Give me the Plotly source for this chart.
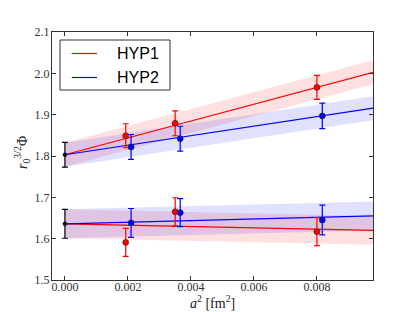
import plotly.graph_objects as go

# ---- data ----
hyp1_x = [0.00193, 0.00350, 0.00800]
hyp1_upper = [1.849, 1.879, 1.966]
hyp1_upper_err = [0.029, 0.030, 0.029]
hyp1_lower = [1.591, 1.665, 1.617]
hyp1_lower_err = [0.034, 0.034, 0.034]

hyp2_x = [0.00210, 0.00366, 0.00817]
hyp2_upper = [1.822, 1.842, 1.897]
hyp2_upper_err = [0.030, 0.030, 0.031]
hyp2_lower = [1.638, 1.663, 1.645]
hyp2_lower_err = [0.035, 0.034, 0.036]

extrap_x = [0.0, 0.0]
extrap_y = [1.803, 1.636]
extrap_err = [0.030, 0.035]

fit_x = [0.0, 0.0098]
fit_hyp1_upper = [1.803, 2.003]
fit_hyp2_upper = [1.803, 1.916]
fit_hyp1_lower = [1.636, 1.620]
fit_hyp2_lower = [1.636, 1.655]
band_upper = 0.029
band_lower = 0.035

legend_names = ["HYP1", "HYP2"]
x_title = "<i>a</i><sup>2</sup> [fm<sup>2</sup>]"
y_title = "<i>r</i><sub>0</sub><sup>3/2</sup>Φ"

RED = "#ff0000"
BLUE = "#0000ff"
RED_FILL = "rgba(255,0,0,0.12)"
BLUE_FILL = "rgba(0,0,255,0.12)"

fig = go.Figure()


def add_band(xs, ys, half, fill):
    up = [v + half for v in ys]
    lo = [v - half for v in ys]
    fig.add_trace(go.Scatter(x=xs + xs[::-1], y=up + lo[::-1], fill="toself",
                             fillcolor=fill, line=dict(width=0), mode="lines",
                             hoverinfo="skip", showlegend=False))


add_band(fit_x, fit_hyp1_upper, band_upper, RED_FILL)
add_band(fit_x, fit_hyp1_lower, band_lower, RED_FILL)
add_band(fit_x, fit_hyp2_upper, band_upper, BLUE_FILL)
add_band(fit_x, fit_hyp2_lower, band_lower, BLUE_FILL)

for ys, c in [(fit_hyp1_upper, RED), (fit_hyp1_lower, RED),
              (fit_hyp2_upper, BLUE), (fit_hyp2_lower, BLUE)]:
    fig.add_trace(go.Scatter(x=fit_x, y=ys, mode="lines",
                             line=dict(color=c, width=1.2), showlegend=False))


def add_points(xs, ys, errs, c, size=6):
    fig.add_trace(go.Scatter(
        x=xs, y=ys, mode="markers",
        marker=dict(color=c, size=size, line=dict(color="#222222", width=0.6)),
        error_y=dict(type="data", array=errs, color=c, thickness=1.2, width=3),
        showlegend=False))


add_points(hyp1_x, hyp1_upper, hyp1_upper_err, RED)
add_points(hyp1_x, hyp1_lower, hyp1_lower_err, RED)
add_points(hyp2_x, hyp2_upper, hyp2_upper_err, BLUE)
add_points(hyp2_x, hyp2_lower, hyp2_lower_err, BLUE)
add_points(extrap_x, extrap_y, extrap_err, "black", size=4)

# ---- page body adds an 8px offset; plot area on screen: 52..373 x 32..280 px ----
OFF = 8
L, T, W, H = 52, 32, 321, 248


def px(x):
    return (x - L) / W


def py(y):
    return (T + H - y) / H


fig.add_shape(type="rect", xref="paper", yref="paper",
              x0=px(60), x1=px(170), y0=py(90), y1=py(40),
              line=dict(color="#333333", width=1), fillcolor="white", layer="above")
for name, c, yy in zip(legend_names, [RED, BLUE], [53.5, 77.5]):
    fig.add_shape(type="line", xref="paper", yref="paper",
                  x0=px(72), x1=px(97), y0=py(yy), y1=py(yy),
                  line=dict(color=c, width=1.2), layer="above")
    fig.add_annotation(text=name, xref="paper", yref="paper", x=px(115), y=py(yy),
                       xanchor="left", yanchor="middle", showarrow=False,
                       font=dict(family="Liberation Sans, Arial, sans-serif", size=16,
                                 color="black"))

title_font = dict(family="Liberation Serif, serif", size=14, color="#222")
fig.add_annotation(text=x_title, xref="paper", yref="paper", x=px(212), y=py(302),
                   xanchor="center", yanchor="middle", showarrow=False, font=title_font)
fig.add_annotation(text=y_title, xref="paper", yref="paper", x=px(22), y=py(153),
                   xanchor="center", yanchor="middle", showarrow=False, textangle=-90,
                   font=title_font)

tickfont = dict(family="Liberation Serif, serif", size=12, color="#333333")
axis_common = dict(showgrid=False, zeroline=False, showline=True, linecolor="#333333",
                   linewidth=1, mirror="ticks", ticks="inside", ticklen=4,
                   tickcolor="#333333", tickfont=tickfont, automargin=False)

fig.update_layout(
    width=415 - OFF, height=312 - OFF,
    margin=dict(l=L - OFF, r=415 - (L + W), t=T - OFF, b=312 - (T + H)),
    paper_bgcolor="white", plot_bgcolor="white",
    showlegend=False,
    xaxis=dict(range=[-0.00041, 0.00978], tickvals=[0, 0.002, 0.004, 0.006, 0.008],
               ticktext=["0.000", "0.002", "0.004", "0.006", "0.008"],
               ticklabelstandoff=-4, **axis_common),
    yaxis=dict(range=[1.5, 2.1], tickvals=[1.5, 1.6, 1.7, 1.8, 1.9, 2.0, 2.1],
               ticktext=["1.5", "1.6", "1.7", "1.8", "1.9", "2.0", "2.1"],
               ticklabelstandoff=-1, **axis_common),
)

fig.write_html("out.html")
